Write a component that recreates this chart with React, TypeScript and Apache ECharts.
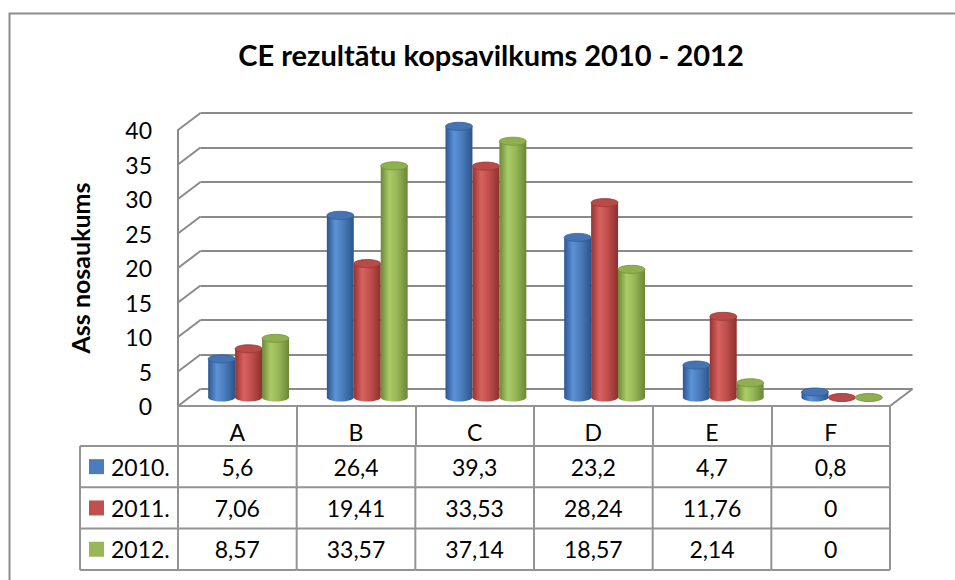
import React, { useEffect, useRef } from "react";
import * as echarts from "echarts";

// ---- data ----
const chartTitle = "CE rezultātu kopsavilkums 2010 - 2012";
const yAxisName = "Ass nosaukums";
const categories = ["A", "B", "C", "D", "E", "F"];
const seriesNames = ["2010.", "2011.", "2012."];
const values2010 = [5.6, 26.4, 39.3, 23.2, 4.7, 0.8];
const values2011 = [7.06, 19.41, 33.53, 28.24, 11.76, 0];
const values2012 = [8.57, 33.57, 37.14, 18.57, 2.14, 0];
const yTicks = [0, 5, 10, 15, 20, 25, 30, 35, 40];
const yMin = 0;
const yMax = 40;
const yInterval = 5;

// ---- styles / layout ----
const FONT = "Lato, Calibri, 'Liberation Sans', sans-serif";
const GRID_LINE = "#8a8a8a";
const TABLE_LINE = "#949494";
const BACK_LEFT = 200.5;
const BACK_TOP = 113;
const PLOT_W = 712;
const PLOT_H = 276;
const DX = 22.5; // depth shift (front is left/down of back)
const DY = 17;
const HEADER_H = 40;
const ROW_H = 41.3;
const ROWHEAD_W = 98;
const TEXT_SIZE = 23;

const palettes = [
  { stops: ["#2b568f", "#5d92d8", "#4a7dbd", "#2c5489"], top: "#4474b3", edge: "#355f98" },
  { stops: ["#963330", "#d8625f", "#c0504d", "#8e2f2c"], top: "#b84a47", edge: "#9a3936" },
  { stops: ["#6c8836", "#abcb68", "#98b857", "#6a8635"], top: "#8fb04f", edge: "#76933c" },
];
const seriesValues = [values2010, values2011, values2012];

const fmt = (v: number) => String(v).replace(".", ",");

function gradient(stops: string[]) {
  return new echarts.graphic.LinearGradient(0, 0, 1, 0, [
    { offset: 0, color: stops[0] },
    { offset: 0.32, color: stops[1] },
    { offset: 0.6, color: stops[2] },
    { offset: 1, color: stops[3] },
  ]);
}

function cylinderSeries(s: number) {
  const pal = palettes[s];
  return {
    type: "custom",
    name: seriesNames[s],
    xAxisIndex: 0,
    yAxisIndex: 0,
    encode: { x: 0, y: 1 },
    data: seriesValues[s].map((v, i) => [i, v]),
    z: 5,
    renderItem: (params: any, api: any) => {
      const i = api.value(0);
      const val = api.value(1);
      const base = api.coord([i, 0]);
      const top = api.coord([i, val]);
      const bandW = api.size([1, 0])[0];
      const barW = bandW * 0.227;
      const rx = barW / 2;
      const ry = barW * 0.15;
      const cx = base[0] + (s - 1) * barW - DX / 2;
      const yb = base[1] + DY / 2;
      const yt = top[1] + DY / 2;
      const fill = gradient(pal.stops);
      return {
        type: "group",
        children: [
          { type: "ellipse", shape: { cx, cy: yb, rx, ry }, style: { fill } },
          { type: "rect", shape: { x: cx - rx, y: yt, width: barW, height: Math.max(0, yb - yt) }, style: { fill } },
          { type: "ellipse", shape: { cx, cy: yt, rx, ry }, style: { fill: pal.top, stroke: pal.edge, lineWidth: 0.8 } },
        ],
      };
    },
  };
}

const option: any = {
  animation: false,
  backgroundColor: "#ffffff",
  title: {
    text: chartTitle,
    left: 486,
    textAlign: "center",
    top: 35,
    textStyle: { fontFamily: FONT, fontWeight: "bold", fontSize: 29, color: "#000" },
  },
  graphic: [
    {
      type: "rect",
      shape: { x: 9.5, y: 13.5, width: 1200, height: 1200 },
      style: { fill: "none", stroke: "#8c8c8c", lineWidth: 2 },
      silent: true,
    },
  ],
  grid: [
    { left: BACK_LEFT, top: BACK_TOP, width: PLOT_W, height: PLOT_H },
    { left: BACK_LEFT - DX, top: BACK_TOP + DY, width: PLOT_W, height: PLOT_H },
  ],
  xAxis: [
    {
      gridIndex: 0,
      type: "category",
      data: categories,
      boundaryGap: true,
      axisLine: { show: false },
      axisTick: { show: false },
      axisLabel: { show: false },
      splitLine: { show: false },
    },
    {
      gridIndex: 1,
      type: "category",
      data: categories,
      boundaryGap: true,
      axisLine: { show: true, lineStyle: { color: TABLE_LINE, width: 2 } },
      axisTick: { show: true, length: HEADER_H, lineStyle: { color: TABLE_LINE, width: 2 } },
      axisLabel: { show: true, margin: 14, fontFamily: FONT, fontSize: TEXT_SIZE, color: "#000" },
      splitLine: { show: false },
    },
  ],
  yAxis: [
    {
      gridIndex: 0,
      type: "value",
      min: yMin,
      max: yMax,
      interval: yInterval,
      axisLine: { show: false },
      axisTick: { show: false },
      axisLabel: { show: false },
      splitLine: { show: true, lineStyle: { color: GRID_LINE, width: 2 } },
    },
    {
      gridIndex: 1,
      type: "value",
      min: yMin,
      max: yMax,
      interval: yInterval,
      name: yAxisName,
      nameLocation: "middle",
      nameRotate: 90,
      nameGap: 86,
      nameTextStyle: { fontFamily: FONT, fontWeight: "bold", fontSize: 25, color: "#000" },
      axisLine: { show: true, lineStyle: { color: GRID_LINE, width: 2 } },
      axisTick: { show: false },
      axisLabel: { show: true, margin: 26, fontFamily: FONT, fontSize: TEXT_SIZE, color: "#000" },
      splitLine: { show: false },
    },
  ],
  series: [
    {
      type: "custom",
      name: "walls",
      xAxisIndex: 0,
      yAxisIndex: 0,
      encode: { x: 0, y: 1 },
      data: yTicks.map((v) => [0, v]),
      z: 2,
      silent: true,
      renderItem: (params: any, api: any) => {
        const cs = params.coordSys;
        const v = api.value(1);
        const y = api.coord([0, v])[1];
        const children: any[] = [
          {
            type: "line",
            shape: { x1: cs.x, y1: y, x2: cs.x - DX, y2: y + DY },
            style: { stroke: GRID_LINE, lineWidth: 2 },
          },
        ];
        if (v === yMin) {
          children.push({
            type: "line",
            shape: { x1: cs.x + cs.width, y1: y, x2: cs.x + cs.width - DX, y2: y + DY },
            style: { stroke: GRID_LINE, lineWidth: 2 },
          });
        }
        return { type: "group", children };
      },
    },
    cylinderSeries(0),
    cylinderSeries(1),
    cylinderSeries(2),
    {
      type: "custom",
      name: "table",
      xAxisIndex: 1,
      yAxisIndex: 1,
      encode: { x: 0, y: 1 },
      data: categories.map((c, i) => [i, 0]),
      z: 3,
      silent: true,
      renderItem: (params: any, api: any) => {
        const cs = params.coordSys;
        const i = api.value(0);
        const cx = api.coord([i, 0])[0];
        const bw = api.size([1, 0])[0];
        const top = cs.y + cs.height + HEADER_H;
        const bottom = top + ROW_H * seriesNames.length;
        const lineStyle = { stroke: TABLE_LINE, lineWidth: 2 };
        const children: any[] = [];
        children.push({ type: "line", shape: { x1: cx + bw / 2, y1: top, x2: cx + bw / 2, y2: bottom }, style: lineStyle });
        for (let r = 0; r <= seriesNames.length; r++) {
          const y = top + r * ROW_H;
          children.push({ type: "line", shape: { x1: cx - bw / 2, y1: y, x2: cx + bw / 2, y2: y }, style: lineStyle });
        }
        seriesValues.forEach((vals, r) => {
          children.push({
            type: "text",
            style: {
              text: fmt(vals[i]),
              x: cx,
              y: top + r * ROW_H + ROW_H / 2,
              align: "center",
              verticalAlign: "middle",
              fontFamily: FONT,
              fontSize: TEXT_SIZE,
              fill: "#000",
            },
          });
        });
        if (i === 0) {
          const lx = cs.x - ROWHEAD_W;
          children.push({ type: "line", shape: { x1: lx, y1: top, x2: lx, y2: bottom }, style: lineStyle });
          children.push({ type: "line", shape: { x1: cs.x, y1: top, x2: cs.x, y2: bottom }, style: lineStyle });
          for (let r = 0; r <= seriesNames.length; r++) {
            const y = top + r * ROW_H;
            children.push({ type: "line", shape: { x1: lx, y1: y, x2: cs.x, y2: y }, style: lineStyle });
          }
          seriesNames.forEach((name, r) => {
            const cy = top + r * ROW_H + ROW_H / 2;
            children.push({
              type: "rect",
              shape: { x: lx + 9, y: cy - 7.5, width: 15, height: 15 },
              style: { fill: palettes[r].stops[2] },
            });
            children.push({
              type: "text",
              style: {
                text: name,
                x: lx + 31,
                y: cy,
                align: "left",
                verticalAlign: "middle",
                fontFamily: FONT,
                fontSize: TEXT_SIZE,
                fill: "#000",
              },
            });
          });
        }
        return { type: "group", children };
      },
    },
  ],
};

export default function App() {
  const ref = useRef<HTMLDivElement>(null);
  useEffect(() => {
    if (!ref.current) return;
    const chart = echarts.init(ref.current, undefined, { renderer: "svg" });
    chart.setOption(option);
    return () => chart.dispose();
  }, []);
  return (
    <div
      ref={ref}
      style={{ position: "fixed", left: 0, top: 0, width: 955, height: 580, background: "#fff" }}
    />
  );
}
